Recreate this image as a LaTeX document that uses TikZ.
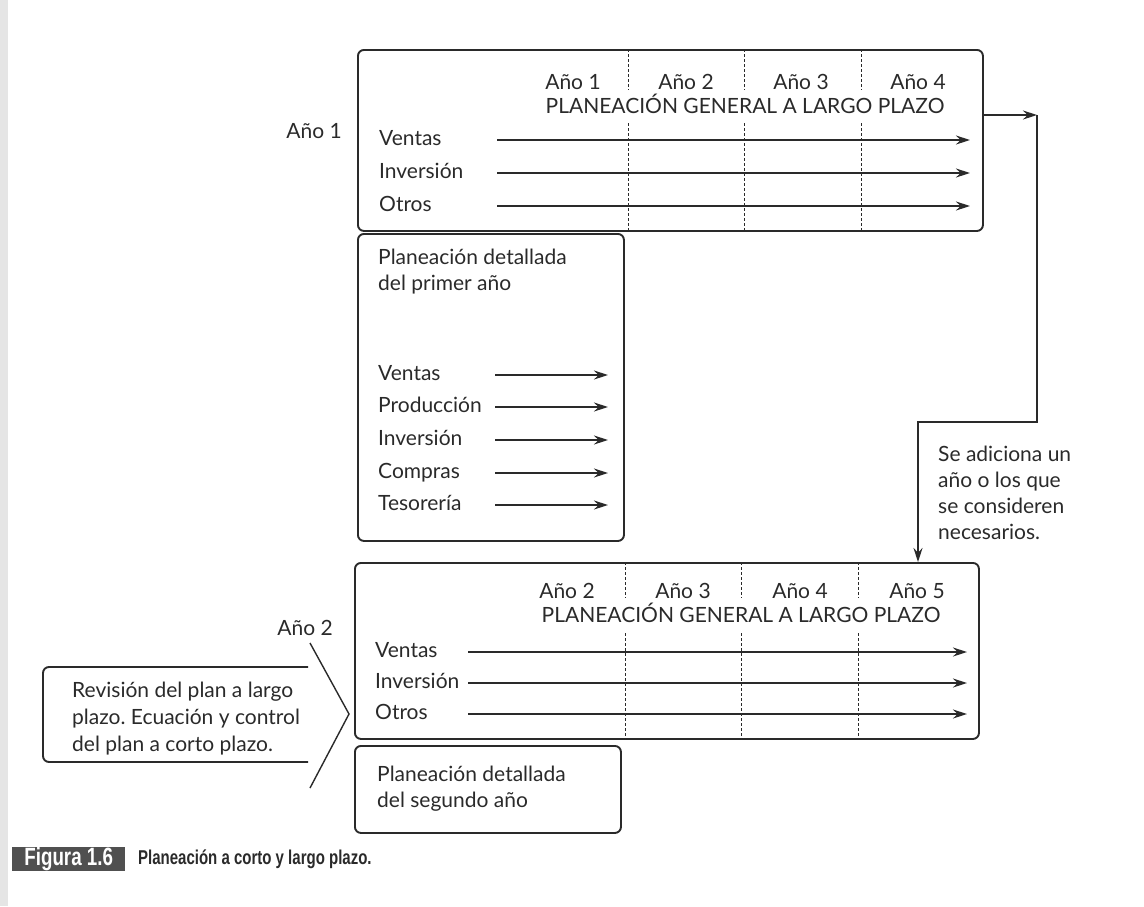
\documentclass[tikz,border=0pt]{standalone}
\usepackage{fontspec}
\setmainfont{Lato}
\newfontfamily\capfont[FakeStretch=0.75]{Liberation Sans}
\usetikzlibrary{arrows.meta}
\definecolor{ink}{HTML}{2A2A2A}
\definecolor{tagfill}{HTML}{505050}
\frenchspacing

\begin{document}
\begin{tikzpicture}[x=1pt,y=-1pt,
  every node/.style={text=ink, font=\fontsize{21}{26}\selectfont, inner sep=0pt},
  frame/.style={draw=ink, line width=1.9pt, rounded corners=6pt},
  tip/.style={-{Stealth[length=14pt,width=9pt]}},
  flow/.style={draw=ink, line width=1.3pt, tip},
  link/.style={draw=ink, line width=1.4pt},
  divider/.style={draw=ink, line width=0.9pt, dash pattern=on 3pt off 2pt},
  row/.style={anchor=west, text height=15pt, text depth=5pt},
  yr/.style={anchor=center, text height=15pt, text depth=5pt},
  para/.style={anchor=north west, align=left}]

\useasboundingbox (0,0) rectangle (1144,906);
\fill[black!10] (0,0) rectangle (8,906);

% ---------- first long-range plan ----------
\node[frame, anchor=north west, minimum width=625pt, minimum height=181pt] (plan1) at (357,49) {};
\foreach \x in {628,744,861} {
  \draw[divider] (\x,49) -- (\x,90);
  \draw[divider] (\x,123) -- (\x,230);
}
\node[yr] (y11) at (573,84) {Año 1};
\node[yr] (y12) at (686,84) {Año 2};
\node[yr] (y13) at (801,84) {Año 3};
\node[yr] (y14) at (918,84) {Año 4};
\node[yr] (gen1) at (745,108) {PLANEACIÓN GENERAL A LARGO PLAZO};
\node[row, anchor=east] (tag1) at (342,133) {Año 1};

\foreach \name/\txt/\y in {v1/Ventas/140, i1/Inversión/173, o1/Otros/206} {
  \node[row] (\name) at (379,\y) {\txt};
  \coordinate (\name s) at (497,\y);
  \coordinate (\name e) at (970,\y);
  \draw[flow] (\name s) -- (\name e);
}

% ---------- detailed plan, first year ----------
\node[frame, anchor=north west, minimum width=266pt, minimum height=307pt] (det1) at (357,233) {};
\node[para] (det1t) at (378,249) {Planeación detallada\\del primer año};
\foreach \name/\txt/\y in {dv/Ventas/375, dp/Producción/407, di/Inversión/440, dc/Compras/473, dt/Tesorería/505} {
  \node[row] (\name) at (378,\y) {\txt};
  \coordinate (\name s) at (495,\y);
  \coordinate (\name e) at (608,\y);
  \draw[flow] (\name s) -- (\name e);
}

% ---------- second long-range plan ----------
\node[frame, anchor=north west, minimum width=624pt, minimum height=176pt] (plan2) at (354,562) {};
\foreach \x in {625,741,858} {
  \draw[divider] (\x,562) -- (\x,598);
  \draw[divider] (\x,633) -- (\x,738);
}
\node[yr] (y22) at (567,593) {Año 2};
\node[yr] (y23) at (683,593) {Año 3};
\node[yr] (y24) at (800,593) {Año 4};
\node[yr] (y25) at (917,593) {Año 5};
\node[yr] (gen2) at (741,617) {PLANEACIÓN GENERAL A LARGO PLAZO};
\node[row, anchor=east] (tag2) at (333,630) {Año 2};

\foreach \name/\txt/\y in {v2/Ventas/652, i2/Inversión/683, o2/Otros/714} {
  \node[row] (\name) at (375,\y) {\txt};
  \coordinate (\name s) at (468,\y);
  \coordinate (\name e) at (967,\y);
  \draw[flow] (\name s) -- (\name e);
}

% ---------- detailed plan, second year ----------
\node[frame, anchor=north west, minimum width=266pt, minimum height=87pt] (det2) at (354,745) {};
\node[para] (det2t) at (377,766) {Planeación detallada\\del segundo año};

% ---------- roll-forward connector ----------
\coordinate (turn1) at (1037,115);
\coordinate (turn2) at (918,422);
\draw[flow] (plan1.east |- turn1) -- (turn1);
\draw[link, tip] (turn1) |- (turn2) -- (plan2.north -| turn2);
\node[para] (note) at (938,446) {Se adiciona un\\año o los que\\se consideren\\necesarios.};

% ---------- review callout ----------
\draw[frame] (308,667) -- (43,667) -- (43,762) -- (308,762);
\coordinate (chevA) at (310,643);
\coordinate (chevB) at (349,714);
\coordinate (chevC) at (310,788);
\draw[link, line join=miter] (chevA) -- (chevB) -- (chevC);
\node[para, font=\fontsize{21}{27}\selectfont] (review) at (72,682) {Revisión del plan a largo\\plazo. Ecuación y control\\del plan a corto plazo.};

% ---------- caption ----------
\node[fill=tagfill, text=white, font=\capfont\bfseries\fontsize{25}{26}\selectfont,
      anchor=west, minimum width=113pt, minimum height=24pt] (figtag) at (12,859) {Figura 1.6};
\node[anchor=west, font=\capfont\bfseries\fontsize{20}{22}\selectfont, text=ink] (figcap) at (138,859) {Planeación a corto y largo plazo.};
\end{tikzpicture}
\end{document}
